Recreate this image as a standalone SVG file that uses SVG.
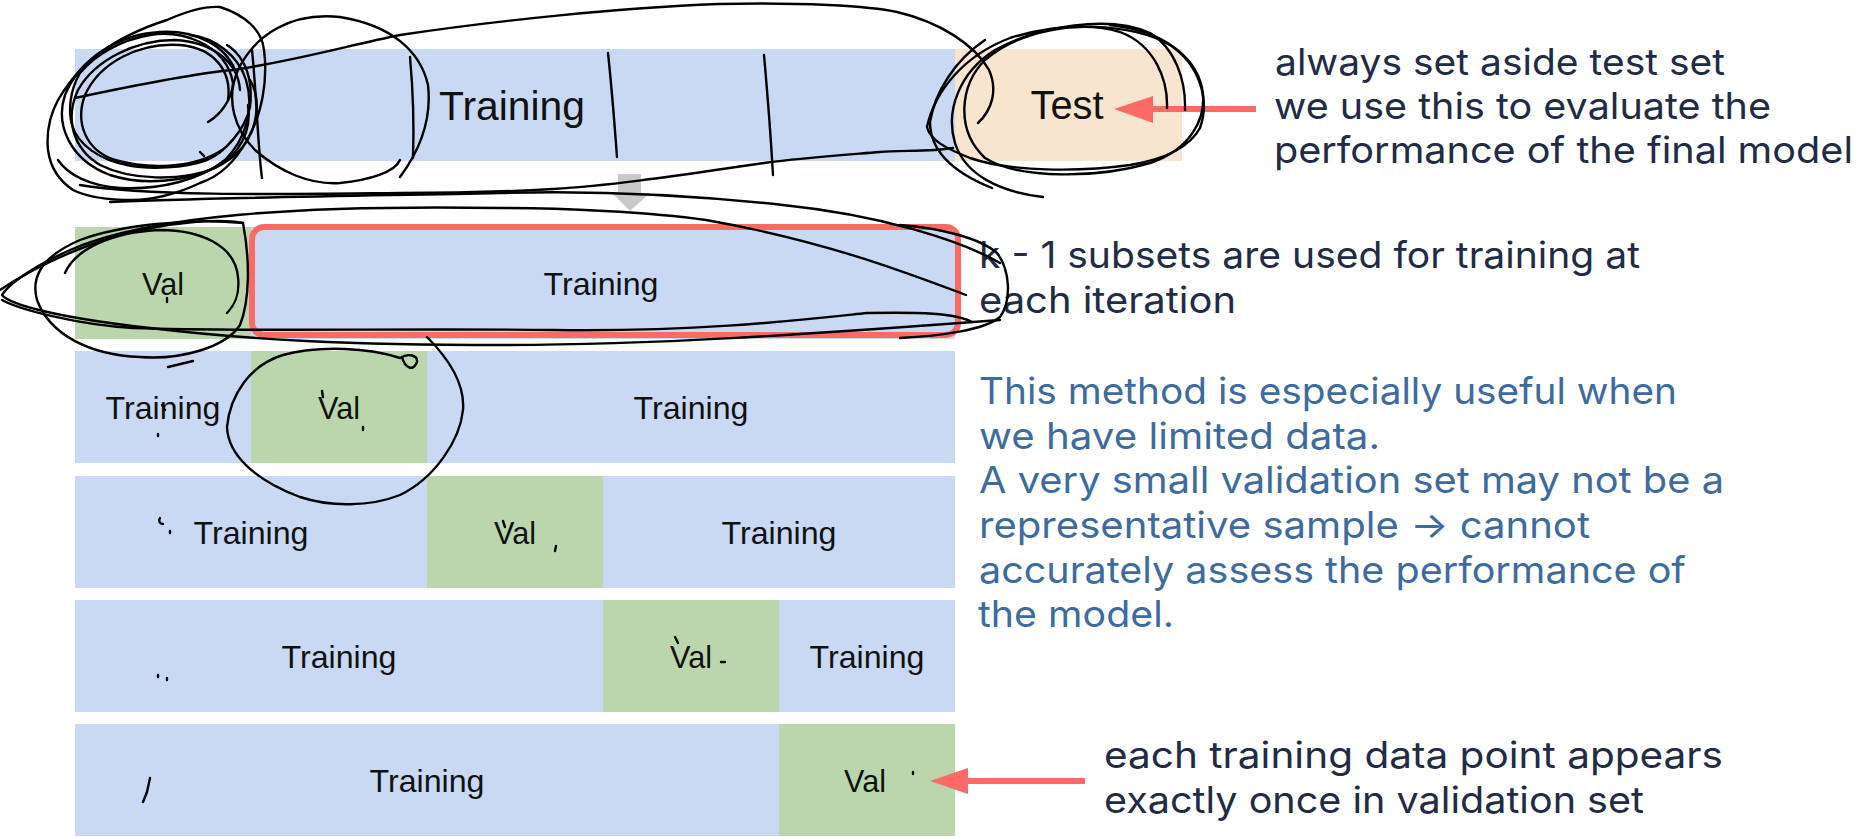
<svg xmlns="http://www.w3.org/2000/svg" width="1872" height="837" viewBox="0 0 1872 837">
<style>
.tr{fill:#cad9f3}
.va{fill:#bbd6ac}
.te{fill:#f8e5cf}
.lb{font-family:"Liberation Sans",Arial,sans-serif;fill:#111;text-anchor:middle}
.big{font-size:40px}
.sm{font-size:32px}
.an{font-family:Inter,"Open Sans",sans-serif;font-size:37px;fill:#222b45}
.bl{fill:#3e6b9f}
.scr{fill:none;stroke:#000;stroke-width:2.4;stroke-linecap:round;stroke-linejoin:round}
.red{stroke:#fa6b67;stroke-width:6;fill:none}
</style>
<rect width="1872" height="837" fill="#fff"/>

<g id="top-training"><rect class="tr" x="75" y="49" width="880" height="112"/><text class="lb big" x="512" y="120" textLength="146" lengthAdjust="spacingAndGlyphs">Training</text></g>
<g id="top-test"><rect class="te" x="955" y="49" width="227" height="112"/><text class="lb big" x="1067" y="119" textLength="73" lengthAdjust="spacingAndGlyphs">Test</text></g>

<g id="row1">
<rect class="va" x="75" y="227" width="176" height="112"/><text class="lb sm" x="163" y="295" textLength="42" lengthAdjust="spacingAndGlyphs">Val</text>
<rect class="tr" x="251" y="227" width="704" height="112"/><text class="lb sm" x="601" y="295" textLength="115" lengthAdjust="spacingAndGlyphs">Training</text>
<rect x="252" y="227" width="706" height="108" rx="12" class="red" stroke-width="7"/>
</g>
<g id="row2">
<rect class="tr" x="75" y="351" width="176" height="112"/><text class="lb sm" x="163" y="419" textLength="115" lengthAdjust="spacingAndGlyphs">Training</text>
<rect class="va" x="251" y="351" width="176" height="112"/><text class="lb sm" x="339" y="419" textLength="42" lengthAdjust="spacingAndGlyphs">Val</text>
<rect class="tr" x="427" y="351" width="528" height="112"/><text class="lb sm" x="691" y="419" textLength="115" lengthAdjust="spacingAndGlyphs">Training</text>
</g>
<g id="row3">
<rect class="tr" x="75" y="476" width="352" height="112"/><text class="lb sm" x="251" y="544" textLength="115" lengthAdjust="spacingAndGlyphs">Training</text>
<rect class="va" x="427" y="476" width="176" height="112"/><text class="lb sm" x="515" y="544" textLength="42" lengthAdjust="spacingAndGlyphs">Val</text>
<rect class="tr" x="603" y="476" width="352" height="112"/><text class="lb sm" x="779" y="544" textLength="115" lengthAdjust="spacingAndGlyphs">Training</text>
</g>
<g id="row4">
<rect class="tr" x="75" y="600" width="528" height="112"/><text class="lb sm" x="339" y="668" textLength="115" lengthAdjust="spacingAndGlyphs">Training</text>
<rect class="va" x="603" y="600" width="176" height="112"/><text class="lb sm" x="691" y="668" textLength="42" lengthAdjust="spacingAndGlyphs">Val</text>
<rect class="tr" x="779" y="600" width="176" height="112"/><text class="lb sm" x="867" y="668" textLength="115" lengthAdjust="spacingAndGlyphs">Training</text>
</g>
<g id="row5">
<rect class="tr" x="75" y="724" width="704" height="112"/><text class="lb sm" x="427" y="792" textLength="115" lengthAdjust="spacingAndGlyphs">Training</text>
<rect class="va" x="779" y="724" width="176" height="112"/><text class="lb sm" x="865" y="792" textLength="42" lengthAdjust="spacingAndGlyphs">Val</text>
</g>

<g id="note-test" class="an">
<text x="1275" y="75" textLength="450" lengthAdjust="spacingAndGlyphs">always set aside test set</text>
<text x="1274" y="119" textLength="497" lengthAdjust="spacingAndGlyphs">we use this to evaluate the</text>
<text x="1274" y="163" textLength="579" lengthAdjust="spacingAndGlyphs">performance of the final model</text>
</g>
<g id="note-k" class="an">
<text x="979" y="268" textLength="661" lengthAdjust="spacingAndGlyphs">k - 1 subsets are used for training at</text>
<text x="979" y="313" textLength="257" lengthAdjust="spacingAndGlyphs">each iteration</text>
</g>
<g id="note-method" class="an bl">
<text x="979" y="404" textLength="698" lengthAdjust="spacingAndGlyphs">This method is especially useful when</text>
<text x="979" y="449" textLength="401" lengthAdjust="spacingAndGlyphs">we have limited data.</text>
<text x="979" y="493" textLength="745" lengthAdjust="spacingAndGlyphs">A very small validation set may not be a</text>
<text x="979" y="538" textLength="611" lengthAdjust="spacingAndGlyphs">representative sample → cannot</text>
<text x="979" y="583" textLength="707" lengthAdjust="spacingAndGlyphs">accurately assess the performance of</text>
<text x="978" y="627" textLength="196" lengthAdjust="spacingAndGlyphs">the model.</text>
</g>
<g id="note-val" class="an">
<text x="1104" y="768" textLength="619" lengthAdjust="spacingAndGlyphs">each training data point appears</text>
<text x="1104" y="813" textLength="540" lengthAdjust="spacingAndGlyphs">exactly once in validation set</text>
</g>

<g id="connectors">
<polygon points="618,174 641,174 641,193 650,193 630,211 612,193 618,193" fill="#c9c9c9"/>
<line x1="1256" y1="109" x2="1148" y2="109" class="red"/>
<polygon points="1114,109 1153,96 1153,123" fill="#fa6b67"/>
<line x1="1085" y1="781" x2="963" y2="781" class="red"/>
<polygon points="930,781 968,768 968,794" fill="#fa6b67"/>
</g>

<g id="scribbles" class="scr">
<path d="M208,122 C220,115 232,100 233,83 C230,65 218,50 200,42 C185,35 167,32 150,35 C120,40 95,55 80,73 C70,90 68,110 72,125 C78,145 100,160 127,165 C150,170 185,168 207,160 C225,152 245,130 250,107 C252,90 250,75 243,62 C237,52 232,48 227,45"/>
<path d="M220,7 C245,15 262,30 264,50 C268,80 262,115 247,140 C235,162 218,177 200,183 C175,195 150,200 133,200 C105,200 85,196 73,190 C58,180 50,165 48,150 C46,130 50,115 58,100 C70,80 82,65 100,53 C120,38 145,27 167,20 C185,12 205,6 220,7"/>
<path d="M235,70 C225,45 195,30 160,32 C120,34 80,58 65,95 C55,125 70,160 110,175 C150,188 205,180 235,155 C258,135 262,100 250,80"/>
<path d="M240,90 C238,60 210,42 175,40 C135,40 95,60 78,90 C65,118 72,148 100,165 C130,180 180,182 215,168 C240,155 252,130 248,105"/>
<path d="M228,100 C232,72 215,48 180,45 C140,42 100,62 85,95 C75,122 85,150 115,160 C150,170 195,168 222,150"/>
<path d="M190,35 C215,38 238,55 246,80 C255,110 245,140 225,160 C200,180 160,190 120,188 C90,186 68,175 58,160"/>
<path d="M75,98 C150,82 200,73 233,70 C300,60 350,45 400,35 C500,20 620,8 718,4 C800,2 870,6 897,12 C940,22 975,45 989,70 C998,90 992,110 978,123"/>
<path d="M953,148 C930,152 900,150 880,152 C830,156 800,158 764,163 C700,172 620,185 553,189 C500,192 450,193 400,193 C300,194 150,197 80,185"/>
<path d="M1000,263 C960,240 880,215 783,205 C700,196 600,190 500,193 C350,196 200,198 110,202"/>
<path d="M966,295 C900,270 820,240 706,220 C650,212 560,208 500,208 C300,205 150,215 70,250 C30,268 8,285 2,295 C10,305 60,318 150,328 C250,340 350,345 500,345 C650,345 800,335 1000,320"/>
<path d="M972,322 C955,313 920,312 867,313 C800,320 700,332 553,330 C400,328 250,332 133,328 C80,325 20,310 2,300"/>
<path d="M900,225 C940,228 980,238 997,253 C1010,270 1012,300 1000,317 C985,330 940,336 900,338"/>
<path d="M0,290 C30,270 70,250 120,235 C170,222 220,218 243,223"/>
<path d="M65,273 C75,250 110,232 160,230 C200,230 235,245 238,277 C240,295 235,305 227,313"/>
<path d="M243,223 C250,260 250,300 240,325 C225,348 180,360 140,357 C90,355 50,335 37,300 C30,275 45,255 80,240 C120,225 190,218 243,223"/>
<path d="M252,50 C257,100 258,150 262,178"/>
<path d="M400,177 C420,150 432,120 428,85 C420,50 390,25 340,17 C290,12 255,35 238,70 C225,100 235,130 255,150 C280,172 310,185 340,183 C370,180 395,172 400,160"/>
<path d="M410,57 C413,90 414,130 413,158"/>
<path d="M608,53 C612,90 615,130 617,157"/>
<path d="M764,55 C768,100 771,140 773,175"/>
<path d="M1167,108 C1168,80 1155,45 1120,32 C1080,20 1020,30 985,60 C960,85 955,130 985,158 C1020,180 1100,178 1150,163 C1190,150 1208,118 1202,88 C1195,55 1160,30 1110,25"/>
<path d="M1185,110 C1186,80 1175,48 1150,33 C1110,15 1040,25 995,50 C960,72 945,110 955,143 C965,175 1000,192 1043,197"/>
<path d="M927,127 C935,90 965,55 1010,38 C1060,22 1130,22 1170,45 C1200,65 1210,100 1200,128 C1188,150 1160,160 1130,165 C1080,172 1010,172 970,158 C945,148 930,140 927,127"/>
<path d="M985,40 C955,60 935,92 930,122 C930,150 952,172 992,188"/>
<path d="M402,357 C405,368 413,372 417,362 C418,355 408,353 400,358 C370,348 320,345 283,355 C250,365 230,395 227,427 C228,455 255,480 300,497 C330,507 370,507 400,495 C435,478 460,440 463,410 C465,385 450,360 427,337"/>
<path d="M168,367 L193,361"/>
<path d="M200,152 L204,156"/>
<path d="M167,298 L167,302"/>
<path d="M162,405 L165,410"/>
<path d="M158,434 L158,436"/>
<path d="M322,391 L323,397"/>
<path d="M363,427 L363,430"/>
<path d="M160,518 C158,521 160,524 163,524"/>
<path d="M170,531 L170,533"/>
<path d="M503,521 L505,527"/>
<path d="M556,546 L555,551"/>
<path d="M158,675 L158,677"/>
<path d="M167,678 L167,680"/>
<path d="M675,637 L678,643"/>
<path d="M721,662 L725,662"/>
<path d="M150,778 L147,792 L143,802"/>
<path d="M913,772 L913,774"/>
</g>
</svg>
